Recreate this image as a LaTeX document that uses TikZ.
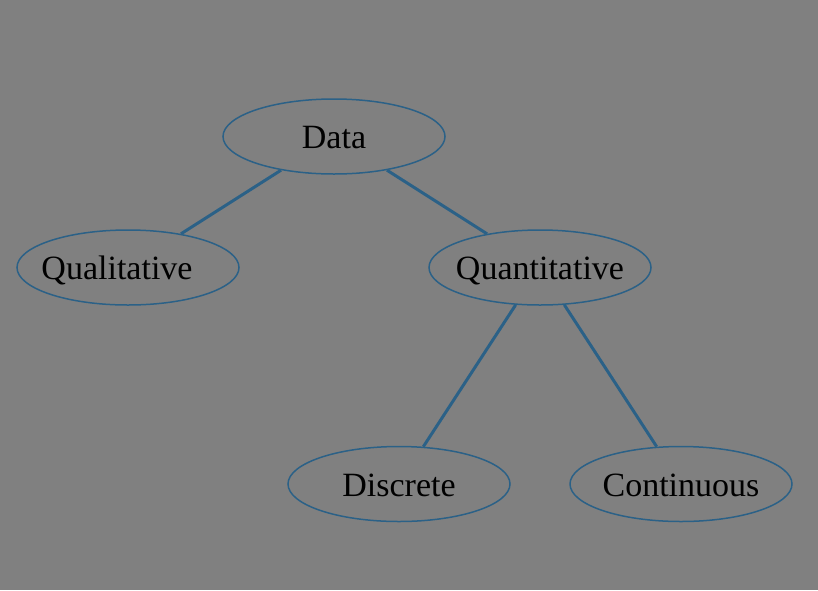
\documentclass[tikz,border=0pt]{standalone}
\usepackage{fontspec}
\setmainfont{Liberation Serif}
\usetikzlibrary{shapes.geometric}
\definecolor{edgeblue}{HTML}{2B6187}
\definecolor{bggray}{HTML}{808080}
\newcommand{\lbl}[2][0pt]{\makebox[0pt]{\kern#1#2}}
\begin{document}
\begin{tikzpicture}[x=1pt,y=-1pt,
  ell/.style={ellipse, draw=edgeblue, line width=1.5pt, minimum width=222pt, minimum height=75pt, inner sep=0pt, text height=24pt, text depth=0pt, font=\fontsize{34}{40}\selectfont, text=black},
  conn/.style={draw=edgeblue, line width=3pt}]
\fill[bggray] (0,0) rectangle (818,590);
\useasboundingbox (0,0) rectangle (818,590);
\node[ell] (data) at (334,136.5) {\lbl{Data}};
\node[ell] (qual) at (128,267.5) {\lbl[-22pt]{Qualitative}};
\node[ell] (quan) at (540,267.5) {\lbl{Quantitative}};
\node[ell] (disc) at (399,484) {\lbl{Discrete}};
\node[ell] (cont) at (681,484) {\lbl{Continuous}};
\draw[conn] (data) -- (qual);
\draw[conn] (data) -- (quan);
\draw[conn] (quan) -- (disc);
\draw[conn] (quan) -- (cont);
\end{tikzpicture}
\end{document}
